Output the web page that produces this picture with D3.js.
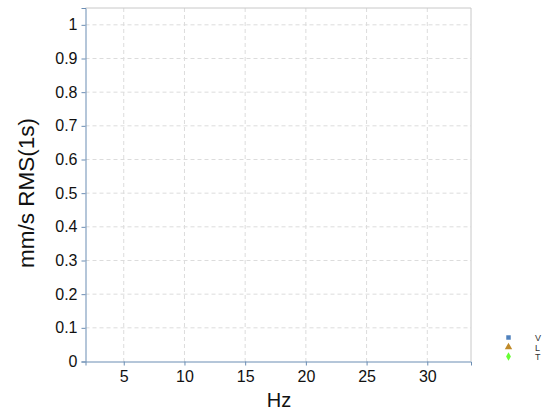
<!DOCTYPE html>
<html>
<head>
<meta charset="utf-8">
<script src="https://cdn.jsdelivr.net/npm/d3@7/dist/d3.min.js"></script>
<style>
html,body{margin:0;padding:0;background:#fff;}
svg{display:block;font-family:"Liberation Sans",Arial,sans-serif;}
</style>
</head>
<body>
<svg id="chart" width="549" height="410"></svg>
<script>
// Data (chart has no plotted points)
const seriesNames = ["V", "L", "T"];
const seriesColors = ["#4f81bd", "#c08a2a", "#66ff33"];
const seriesSymbols = ["square", "triangle", "diamond"];
const valuesV = [];
const valuesL = [];
const valuesT = [];
const xTicks = [5, 10, 15, 20, 25, 30];
const yTicks = [0, 0.1, 0.2, 0.3, 0.4, 0.5, 0.6, 0.7, 0.8, 0.9, 1];
const xDomain = [1.85, 33.6];
const yDomain = [0, 1.05];
const xTitle = "Hz";
const yTitle = "mm/s RMS(1s)";

const svg = d3.select("#chart");
const m = {left: 85.5, right: 471, top: 8, bottom: 361.5};
const x = d3.scaleLinear().domain(xDomain).range([m.left, m.right]);
const y = d3.scaleLinear().domain(yDomain).range([m.bottom, m.top]);

// grid
const grid = svg.append("g");
grid.selectAll(".gx").data(xTicks).join("line")
  .attr("x1", d => x(d)).attr("x2", d => x(d))
  .attr("y1", m.top).attr("y2", m.bottom)
  .attr("stroke", "#dcdcdc").attr("stroke-dasharray", "4,3");
grid.selectAll(".gy").data(yTicks.filter(d => d > 0)).join("line")
  .attr("x1", m.left).attr("x2", m.right)
  .attr("y1", d => y(d)).attr("y2", d => y(d))
  .attr("stroke", "#dcdcdc").attr("stroke-dasharray", "4,3");

// border top/right
svg.append("line").attr("x1", m.left).attr("x2", m.right).attr("y1", m.top).attr("y2", m.top)
  .attr("stroke", "#c8c8c8");
svg.append("line").attr("x1", m.right).attr("x2", m.right).attr("y1", m.top).attr("y2", m.bottom)
  .attr("stroke", "#c8c8c8");

const axisColor = "#6b8db3";
const gx = svg.append("g").attr("transform", `translate(0,${m.bottom})`)
  .call(d3.axisBottom(x).tickValues(xTicks).tickSize(4).tickSizeOuter(4).tickPadding(5).tickFormat(d3.format("d")));
const gy = svg.append("g").attr("transform", `translate(${m.left},0)`)
  .call(d3.axisLeft(y).tickValues(yTicks).tickSize(4).tickSizeOuter(4).tickPadding(4).tickFormat(d => d === 0 ? "0" : d === 1 ? "1" : d3.format(".1f")(d)));
[gx, gy].forEach(g => {
  g.selectAll("path,line").attr("stroke", axisColor);
  g.selectAll("text").attr("fill", "#111").style("font-size", "16px").style("font-family", "'Liberation Sans',Arial,sans-serif");
});

// titles
svg.append("text").attr("x", 279).attr("y", 407)
  .attr("text-anchor", "middle").style("font-size", "20px").attr("fill", "#111").text(xTitle);
svg.append("text").attr("transform", `translate(33.5,193) rotate(-90)`)
  .attr("text-anchor", "middle").style("font-size", "22.5px").attr("fill", "#111").text(yTitle);

// data points (none)
const allValues = [valuesV, valuesL, valuesT];
const symMap = {square: d3.symbolSquare, triangle: d3.symbolTriangle, diamond: d3.symbolDiamond};
allValues.forEach((vals, i) => {
  svg.append("g").selectAll("path").data(vals).join("path")
    .attr("transform", d => `translate(${x(d[0])},${y(d[1])})`)
    .attr("d", d3.symbol().type(symMap[seriesSymbols[i]]).size(30))
    .attr("fill", seriesColors[i]);
});

// legend
const leg = svg.append("g");
seriesNames.forEach((n, i) => {
  const cy = 337.5 + i * 9.5;
  leg.append("path").attr("transform", `translate(508.5,${cy})`)
    .attr("d", d3.symbol().type(symMap[seriesSymbols[i]]).size(seriesSymbols[i] === "triangle" ? 24 : 20))
    .attr("fill", seriesColors[i]);
  leg.append("text").attr("x", 535).attr("y", cy + 3.5)
    .style("font-size", "9px").attr("fill", "#333").text(n);
});
</script>
</body>
</html>
